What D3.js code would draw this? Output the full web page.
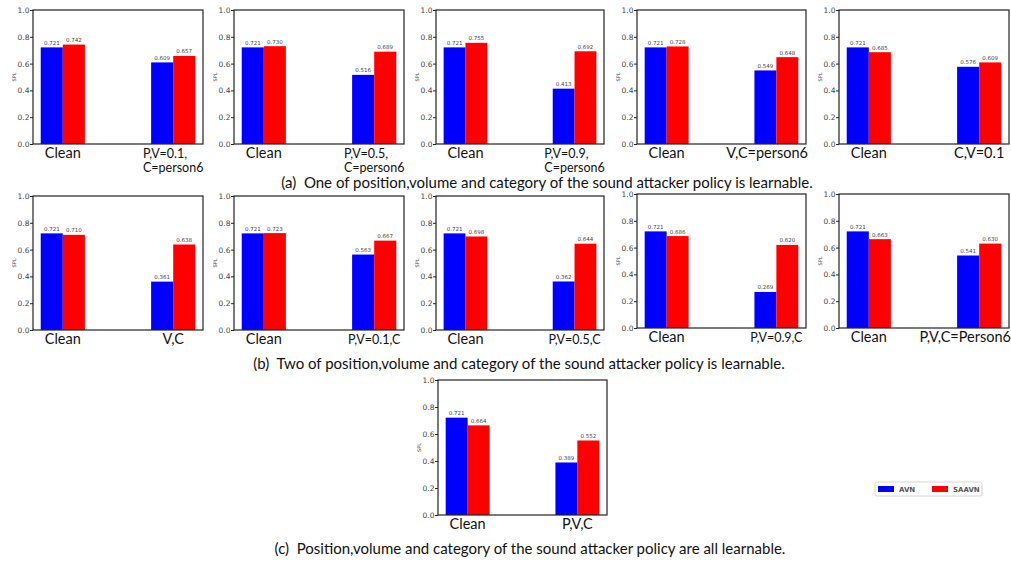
<!DOCTYPE html>
<html>
<head>
<meta charset="utf-8">
<script src="https://cdn.jsdelivr.net/npm/d3@7"></script>
<style>
  body { margin: 0; background: #fff; }
  svg { font-family: Lato, "Noto Sans", sans-serif; }
  .caption { white-space: pre; }
</style>
</head>
<body>
<div id="chart"></div>
<script>
// Data
const seriesNames = ["AVN", "SAAVN"];
const seriesColors = ["#0000ff", "#ff0000"];
const conditionLabels = [
    ["P,V=0.1,", "C=person6"],
    ["P,V=0.5,", "C=person6"],
    ["P,V=0.9,", "C=person6"],
    ["V,C=person6"],
    ["C,V=0.1"],
    ["V,C"],
    ["P,V=0.1,C"],
    ["P,V=0.5,C"],
    ["P,V=0.9,C"],
    ["P,V,C=Person6"],
    ["P,V,C"]
];
const avnValues = [
    [0.721, 0.609], [0.721, 0.516], [0.721, 0.413], [0.721, 0.549], [0.721, 0.576],
    [0.721, 0.361], [0.721, 0.563], [0.721, 0.362], [0.721, 0.269], [0.721, 0.541],
    [0.721, 0.389]
];
const saavnValues = [
    [0.742, 0.657], [0.730, 0.689], [0.755, 0.692], [0.728, 0.648], [0.685, 0.609],
    [0.710, 0.638], [0.723, 0.667], [0.698, 0.644], [0.686, 0.620], [0.663, 0.630],
    [0.664, 0.552]
];
const yTicks = [0.0, 0.2, 0.4, 0.6, 0.8, 1.0];
const captions = [
    "(a)  One of position,volume and category of the sound attacker policy is learnable.",
    "(b)  Two of position,volume and category of the sound attacker policy is learnable.",
    "(c)  Position,volume and category of the sound attacker policy are all learnable."
];

// Layout
const W = 1011, H = 563;
const panels = [
    { x: 33, y: 10, w: 170, h: 134, big: false },
    { x: 234, y: 10, w: 170, h: 134, big: false },
    { x: 436, y: 10, w: 168, h: 134, big: false },
    { x: 637, y: 10, w: 169, h: 134, big: true },
    { x: 839, y: 10, w: 170, h: 134, big: true },
    { x: 33, y: 196, w: 170, h: 134, big: true },
    { x: 234, y: 196, w: 170, h: 134, big: false },
    { x: 436, y: 196, w: 168, h: 134, big: false },
    { x: 637, y: 194, w: 169, h: 134, big: false },
    { x: 839, y: 194, w: 170, h: 134, big: true },
    { x: 438, y: 380, w: 169, h: 135, big: true }
];
const captionPos = [
    { x: 547, y: 188 },
    { x: 519, y: 369 },
    { x: 530, y: 554 }
];

const svg = d3.select("#chart").append("svg")
    .attr("width", W)
    .attr("height", H);

panels.forEach((p, i) => {
    const g = svg.append("g").attr("transform", `translate(${p.x},${p.y})`);

    const x = d3.scaleLinear().domain([-0.27, 1.27]).range([0, p.w]);
    const y = d3.scaleLinear().domain([0, 1]).range([p.h, 0]);

    const bars = [];
    [0, 1].forEach(gi => {
        bars.push({ s: 0, x0: gi - 0.2, v: avnValues[i][gi] });
        bars.push({ s: 1, x0: gi, v: saavnValues[i][gi] });
    });

    g.selectAll("rect.bar")
        .data(bars)
        .enter()
        .append("rect")
        .attr("class", "bar")
        .attr("x", d => x(d.x0))
        .attr("y", d => y(d.v))
        .attr("width", d => x(d.x0 + 0.2) - x(d.x0))
        .attr("height", d => y(0) - y(d.v))
        .attr("fill", d => seriesColors[d.s]);

    // value labels
    g.selectAll("text.val")
        .data(bars)
        .enter()
        .append("text")
        .attr("x", d => x(d.x0 + 0.1))
        .attr("y", d => y(d.v) - 2.5)
        .attr("text-anchor", "middle")
        .style("font-size", "5.5px")
        .style("font-family", "'DejaVu Sans', sans-serif")
        .style("fill", "#444")
        .text(d => d.v.toFixed(3));

    // frame
    g.append("rect")
        .attr("width", p.w)
        .attr("height", p.h)
        .attr("fill", "none")
        .attr("stroke", "#222")
        .attr("stroke-width", 1.2);

    const yAxis = g.append("g")
        .call(d3.axisLeft(y).tickValues(yTicks).tickFormat(d3.format(".1f")).tickSize(3).tickSizeOuter(0));
    yAxis.select(".domain").remove();
    yAxis.selectAll("line").attr("stroke", "#222");
    yAxis.selectAll("text")
        .attr("x", -3.5)
        .style("font-size", "7.5px")
        .style("fill", "#444")
        .style("font-family", "'DejaVu Sans', sans-serif");

    g.append("text")
        .attr("transform", `translate(-17,${p.h / 2}) rotate(-90)`)
        .attr("text-anchor", "middle")
        .style("font-size", "5px")
        .style("font-family", "'DejaVu Sans', sans-serif")
        .style("fill", "#444")
        .text("SPL");

    // x labels
    g.append("text")
        .attr("x", x(0))
        .attr("y", p.h + 14)
        .attr("text-anchor", "middle")
        .style("font-size", "14.5px")
        .style("fill", "#111")
        .text("Clean");

    const lines = conditionLabels[i];
    const fs = p.big ? 14.5 : 12.5;
    const labs = lines.map((t, li) => g.append("text")
        .attr("y", p.h + 14 + li * 13.5)
        .style("font-size", fs + "px")
        .style("fill", "#111")
        .text(t));
    const maxW = d3.max(labs, l => l.node().getComputedTextLength());
    let left = x(1) - maxW / 2;
    if (left + maxW > p.w + 2) left = p.w + 2 - maxW;
    labs.forEach(l => l.attr("x", left));
});

// captions
svg.selectAll("text.caption")
    .data(captions)
    .enter()
    .append("text")
    .attr("class", "caption")
    .attr("x", (d, i) => captionPos[i].x)
    .attr("y", (d, i) => captionPos[i].y)
    .attr("text-anchor", "middle")
    .style("font-size", "15px")
    .style("fill", "#111")
    .text(d => d);

// legend
const legend = svg.append("g").attr("transform", "translate(875,482)");
legend.append("rect")
    .attr("width", 107)
    .attr("height", 14)
    .attr("rx", 2)
    .attr("fill", "#fff")
    .attr("stroke", "#ccc")
    .attr("stroke-width", 0.8);
seriesNames.forEach((name, i) => {
    const lg = legend.append("g").attr("transform", `translate(${3 + i * 54},4)`);
    lg.append("rect")
        .attr("width", 16)
        .attr("height", 6)
        .attr("fill", seriesColors[i]);
    lg.append("text")
        .attr("x", 21)
        .attr("y", 6)
        .style("font-size", "7px")
        .style("font-weight", "bold")
        .style("font-family", "'DejaVu Sans', sans-serif")
        .style("fill", "#555")
        .text(name);
});
</script>
</body>
</html>
